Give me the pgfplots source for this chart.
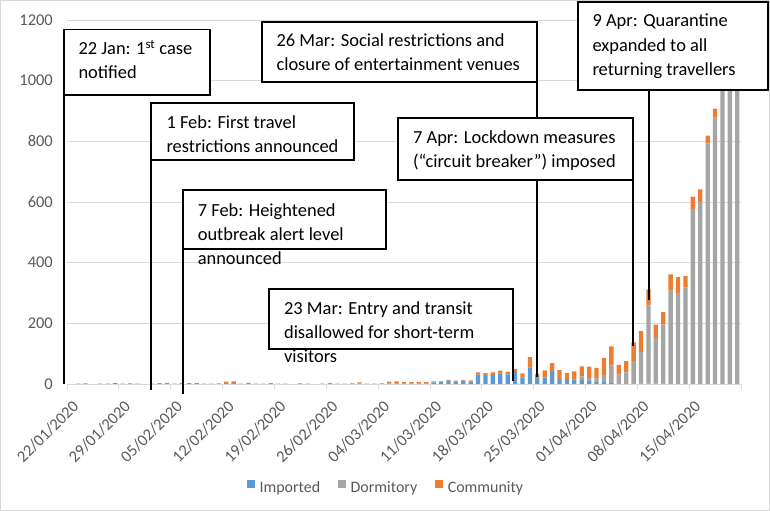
\documentclass[border=0pt]{standalone}
\usepackage{pgfplots}
\pgfplotsset{compat=1.18}
\usepackage{pgfplotstable}
\usepackage{fontspec}
\setmainfont{Carlito}
\definecolor{impblue}{HTML}{5B9BD5}
\definecolor{dormgrey}{HTML}{A5A5A5}
\definecolor{commorange}{HTML}{ED7D31}
\definecolor{gridgray}{HTML}{D9D9D9}
\definecolor{tickgray}{HTML}{595959}
\newcommand\annot{\fontsize{18.5}{25}\selectfont}
\newcommand\tickfont{\fontsize{16.5}{19}\selectfont}
\newcommand\legfont{\fontsize{16}{19}\selectfont}
\newcommand\tl[1]{{\tickfont #1}}
\pgfplotsset{sqlegend/.style={legend image code/.code={\fill[##1] (0bp,0bp) rectangle (7.5bp,7.5bp);}}}
\pgfplotstableread{
d imp dorm comm
0 0 0 0
1 1 0 0
2 2 0 0
3 0 0 0
4 1 0 0
5 1 0 0
6 3 0 0
7 1 0 0
8 2 0 0
9 1 0 0
10 0 0 0
11 0 0 1
12 0 0 3
13 0 0 4
14 0 0 1
15 0 0 3
16 0 0 3
17 0 0 3
18 0 0 1
19 0 0 1
20 0 0 2
21 0 0 8
22 0 0 9
23 0 0 1
24 0 0 4
25 0 0 1
26 0 0 1
27 0 0 3
28 0 0 1
29 0 0 1
30 0 0 0
31 0 0 2
32 0 0 1
33 0 0 0
34 0 0 1
35 0 0 3
36 0 0 1
37 0 0 1
38 0 0 2
39 1 0 4
40 0 0 1
41 0 0 1
42 0 0 2
43 1 0 7
44 1 0 8
45 1 0 5
46 1 0 5
47 1 0 5
48 1 0 5
49 5 0 4
50 7 0 2
51 11 0 3
52 8 0 3
53 11 0 3
54 8 0 4
55 31 0 7
56 27 0 9
57 30 0 8
58 35 0 9
59 32 0 8
60 43 0 7
61 21 0 14
62 55 0 34
63 19 0 14
64 21 0 24
65 43 0 26
66 16 0 30
67 16 0 20
68 15 0 27
69 14 11 33
70 10 10 37
71 6 12 35
72 7 22 57
73 3 58 63
74 2 29 32
75 2 36 37
76 2 74 61
77 1 105 68
78 1 258 53
79 1 150 45
80 1 195 41
81 0 308 53
82 0 300 52
83 0 318 38
84 0 577 41
85 0 600 42
86 0 793 26
87 0 878 30
88 0 1000 30
89 0 1050 25
90 0 1080 20
}\cases

\begin{document}
\begin{tikzpicture}
\useasboundingbox (0,0) rectangle (770bp,511bp);
\draw[gridgray, line width=0.75bp] (0.5bp,0.5bp) rectangle (769.5bp,510.5bp);
\begin{axis}[
  at={(67bp,127bp)}, anchor=south west,
  scale only axis, width=674bp, height=364bp,
  xmin=-0.5, xmax=90.5, ymin=0, ymax=1200,
  ybar stacked, bar width=4.3bp,
  axis x line*=bottom, axis y line*=left,
  y axis line style={draw=none},
  x axis line style={gridgray, line width=0.75bp},
  xtick={0,7,...,84},
  xticklabels={\tl{22/01/2020},\tl{29/01/2020},\tl{05/02/2020},\tl{12/02/2020},\tl{19/02/2020},\tl{26/02/2020},\tl{04/03/2020},\tl{11/03/2020},\tl{18/03/2020},\tl{25/03/2020},\tl{01/04/2020},\tl{08/04/2020},\tl{15/04/2020}},
  minor xtick={-0.5,6.5,...,90.5},
  ytick={0,200,...,1200},
  yticklabels={\tl{0},\tl{200},\tl{400},\tl{600},\tl{800},\tl{1000},\tl{1200}},
  scaled y ticks=false,
  major tick length=0pt, minor tick length=5bp, tick align=outside,
  every minor tick/.append style={gridgray, line width=0.75bp},
  ymajorgrids, major grid style={gridgray, line width=0.75bp},
  yticklabel style={text=tickgray, anchor=east, inner sep=0pt, xshift=-14bp},
  xticklabel style={text=tickgray, rotate=45, anchor=north east, inner sep=0pt, xshift=1bp},
  xticklabel shift=16bp,
  legend columns=3,
  legend style={at={(0.472,-0.283)}, anchor=center, draw=none, fill=none,
    font=\legfont, text=tickgray,
    nodes={inner sep=0pt},
    /tikz/every odd column/.append style={column sep=5bp},
    /tikz/every even column/.append style={column sep=18bp}},
]
\addplot[fill=impblue, draw=none, sqlegend] table[x=d, y=imp] {\cases};
\addlegendentry{Imported}
\addplot[fill=dormgrey, draw=none, sqlegend] table[x=d, y=dorm] {\cases};
\addlegendentry{Dormitory}
\addplot[fill=commorange, draw=none, sqlegend] table[x=d, y=comm] {\cases};
\addlegendentry{Community}
\end{axis}
\begin{scope}[x=1bp, y=-1bp, shift={(0bp,511bp)}, line width=1.6bp]
  % connector lines
  \draw (64,95) -- (64,384);
  \draw (151,160) -- (151,390);
  \draw (183,249) -- (183,394);
  \draw (513,349) -- (513,381);
  \draw (537,82) -- (537,377);
  \draw (633,180) -- (633,346);
  \draw (649,90) -- (649,300);
  % boxes
  \draw[fill=white] (64,29.7) rectangle (210,95);
  \draw[fill=white] (151,103) rectangle (354,160);
  \draw[fill=white] (183,190) rectangle (386,249);
  \draw[fill=white] (269,289) rectangle (513,349);
  \draw[fill=white] (262,22) rectangle (537,82);
  \draw[fill=white] (398,118) rectangle (633,180);
  \draw[fill=white] (578,2) rectangle (768,90);
  % texts
  \begin{scope}[every node/.style={anchor=base west, inner sep=0pt, font=\annot}]
  \node at (77.7,55) {22 Jan: 1\textsuperscript{st} case};
  \node at (77.7,79) {notified};
  \node at (165.7,128.3) {1 Feb: First travel};
  \node at (165.7,152.7) {restrictions announced};
  \node at (197,217) {7 Feb: Heightened};
  \node at (197,241) {outbreak alert level};
  \node at (197,265) {announced};
  \node at (283.3,315) {23 Mar: Entry and transit};
  \node at (283.3,339) {disallowed for short-term};
  \node at (283.3,363) {visitors};
  \node at (275.7,46.7) {26 Mar: Social restrictions and};
  \node at (275.7,71) {closure of entertainment venues};
  \node at (412.3,144) {7 Apr: Lockdown measures};
  \node at (412.3,168) {(“circuit breaker”) imposed};
  \node at (591.7,26.7) {9 Apr: Quarantine};
  \node at (591.7,51.5) {expanded to all};
  \node at (591.7,76) {returning travellers};
  \end{scope}
\end{scope}
\end{tikzpicture}
\end{document}
